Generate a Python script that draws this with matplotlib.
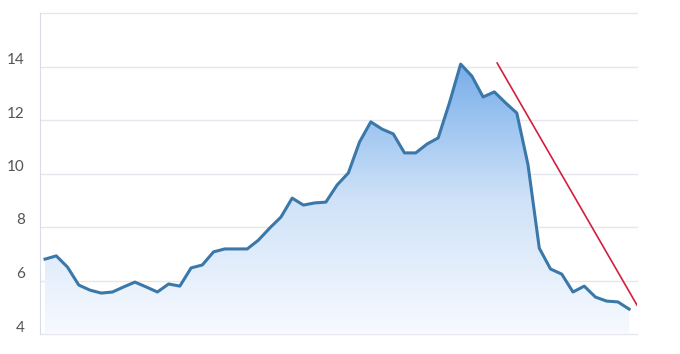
import numpy as np
import matplotlib
matplotlib.use("Agg")
import matplotlib.pyplot as plt
import matplotlib.transforms as mtransforms
from matplotlib.colors import LinearSegmentedColormap

values = [6.80, 6.92, 6.50, 5.83, 5.64, 5.53, 5.57, 5.76, 5.94, 5.76,
          5.57, 5.87, 5.79, 6.47, 6.58, 7.07, 7.18, 7.18, 7.18, 7.51,
          7.96, 8.37, 9.08, 8.82, 8.90, 8.93, 9.57, 10.02, 11.18, 11.93,
          11.66, 11.48, 10.77, 10.77, 11.10, 11.33, 12.64, 14.09, 13.64, 12.86,
          13.05, 12.64, 12.26, 10.32, 7.21, 6.43, 6.24, 5.57, 5.79, 5.38,
          5.23, 5.20, 4.93]
trend_x = [40.25, 52.7]
trend_y = [14.13, 5.08]
yticks = [4, 6, 8, 10, 12, 14, 16]
ylabels = ["4", "6", "8", "10", "12", "14", ""]

x = np.arange(len(values))
ymin, ymax = 4, 16
xmin, xmax = -0.45, 52.7

fig = plt.figure(figsize=(6.8, 3.54), dpi=100)
ax = fig.add_axes([40 / 680, 20 / 354, 597 / 680, 321 / 354])

# gradient fill under the line
poly = ax.fill_between(x, values, ymin, color="none", lw=0)
cmap = LinearSegmentedColormap.from_list("g", ["#f7faff", "#cfe2f8", "#78aeea"])
grad = np.linspace(0, 1, 256).reshape(-1, 1)
im = ax.imshow(grad, cmap=cmap, aspect="auto", origin="lower",
               extent=[xmin, xmax, ymin, max(values)], zorder=1)
path = poly.get_paths()[0]
im.set_clip_path(path, transform=ax.transData)

ax.plot(x, values, color="#3b78aa", lw=2.2, zorder=3, solid_joinstyle="round")
ax.plot(trend_x, trend_y, color="#d21f3c", lw=1.2, zorder=4)

ax.set_xlim(xmin, xmax)
ax.set_ylim(ymin, ymax)
ax.set_yticks(yticks)
ax.set_yticklabels(ylabels)
ax.set_xticks([])
ax.grid(axis="y", color="#e6e6ee", lw=1)
for gl in ax.get_ygridlines():
    gl.set_clip_on(False)
ax.set_axisbelow(True)
for s in ["top", "right", "bottom"]:
    ax.spines[s].set_visible(False)
ax.spines["left"].set_color("#d8dbe8")
ax.tick_params(axis="y", length=0, pad=11, labelsize=11, labelcolor="#555555")
for lbl in ax.get_yticklabels():
    lbl.set_fontfamily("Lato")
    lbl.set_transform(lbl.get_transform() + mtransforms.ScaledTranslation(0, 8 / 100, fig.dpi_scale_trans))

fig.savefig("out.png", dpi=100)
